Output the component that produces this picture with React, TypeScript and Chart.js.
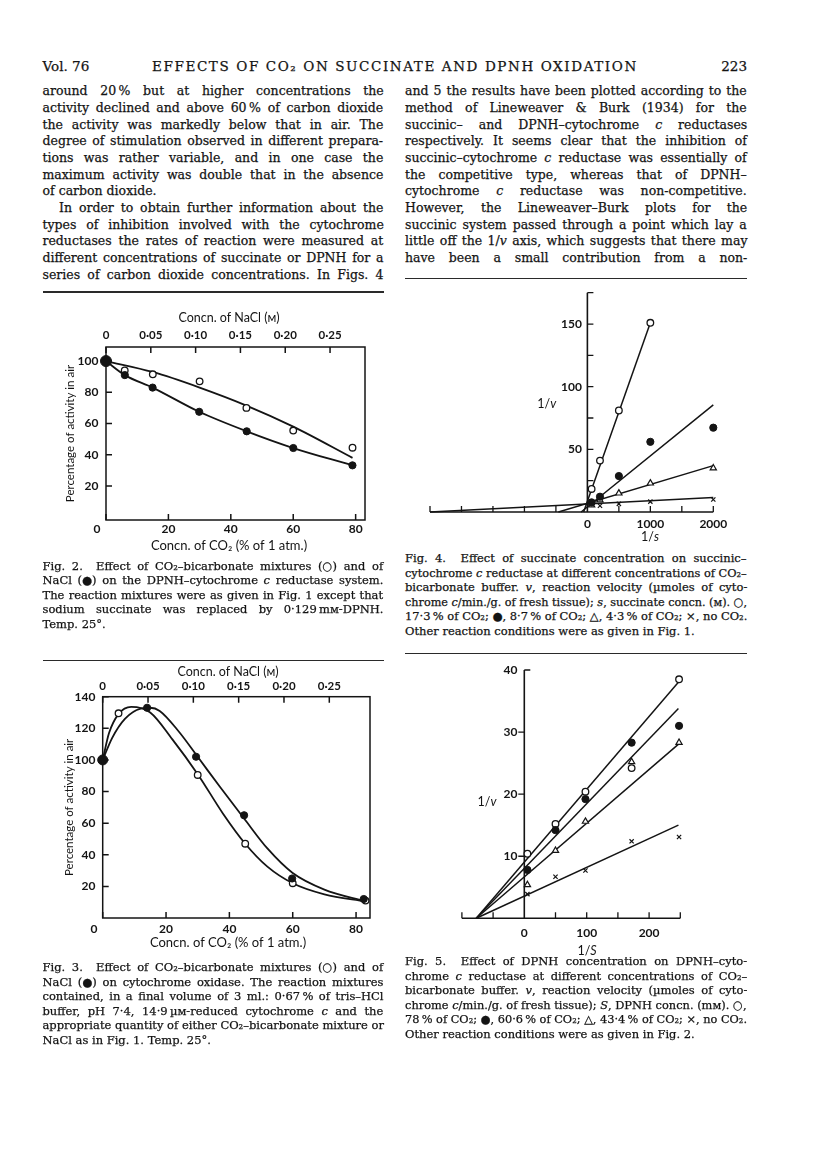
import React, { useEffect, useLayoutEffect, useRef, useState } from 'react';
import { Chart, registerables } from 'chart.js';
Chart.register(...registerables);

// ---------------- Chart data ----------------
// Fig. 2 — CO2 (open) plotted on bottom axis, NaCl (filled) on top axis
const fig2Co2X = [0, 6, 15, 30, 45, 60, 79];
const fig2OpenY = [100, 94, 91.5, 87, 70, 55.5, 44.5];
const fig2NaclX = [0, 0.021, 0.052, 0.104, 0.157, 0.209, 0.275];
const fig2FilledY = [100, 91, 83, 67.5, 55, 44.3, 33.2];
const fig2OpenCurveX = [0, 15, 30, 45, 60, 79];
const fig2OpenCurveY = [100, 93, 83, 71.5, 58, 38];
const fig2FilledCurveX = [0, 0.021, 0.052, 0.104, 0.157, 0.209, 0.275];
const fig2FilledCurveY = [100, 91, 83, 67.5, 55, 44.3, 33.2];
const fig2XTicks = [0, 20, 40, 60, 80];
const fig2XTickLabels = ['0', '20', '40', '60', '80'];
const fig2YTicks = [20, 40, 60, 80, 100];
const fig2YTickLabels = ['20', '40', '60', '80', '100'];
const fig2TopTicks = [0, 0.05, 0.1, 0.15, 0.2, 0.25];
const fig2TopTickLabels = ['0', '0·05', '0·10', '0·15', '0·20', '0·25'];

// Fig. 3
const fig3Co2X = [0, 5, 30, 45, 60, 83];
const fig3OpenY = [100, 129.5, 90.5, 47, 22, 11];
const fig3NaclX = [0, 0.049, 0.103, 0.156, 0.209, 0.288];
const fig3FilledY = [100, 133, 102, 65, 25, 12];
const fig3OpenCurveX = [0, 2, 5, 9, 15, 22, 30, 38, 45, 52, 60, 70, 83];
const fig3OpenCurveY = [100, 117, 129, 133.5, 130, 113, 91, 66, 47, 32.5, 22, 15, 10.5];
const fig3FilledCurveX = [0, 0.0105, 0.0245, 0.042, 0.0524, 0.0629, 0.0839, 0.1048, 0.1293, 0.1572, 0.1817, 0.2096, 0.2446, 0.29];
const fig3FilledCurveY = [100, 114, 126, 132.5, 133, 131, 118, 102, 83, 62, 44, 28.5, 18, 10.5];
const fig3XTicks = [0, 20, 40, 60, 80];
const fig3XTickLabels = ['0', '20', '40', '60', '80'];
const fig3YTicks = [20, 40, 60, 80, 100, 120, 140];
const fig3YTickLabels = ['20', '40', '60', '80', '100', '120', '140'];
const fig3TopTicks = [0, 0.05, 0.1, 0.15, 0.2, 0.25];
const fig3TopTickLabels = ['0', '0·05', '0·10', '0·15', '0·20', '0·25'];

// Fig. 4 — Lineweaver–Burk, succinate
const fig4OpenX = [67, 200, 500, 1000];
const fig4OpenY = [18.4, 41, 81, 151];
const fig4FilledX = [67, 200, 500, 1000, 2000];
const fig4FilledY = [7.7, 12.2, 28.7, 56, 67.3];
const fig4TriX = [67, 200, 500, 1000, 2000];
const fig4TriY = [5.5, 9.5, 15, 23, 35];
const fig4CrossX = [67, 200, 500, 1000, 2000];
const fig4CrossY = [6, 5, 6.5, 8.3, 10];
const fig4OpenLineX = [-60, 1000];
const fig4OpenLineY = [0, 151];
const fig4FilledLineX = [-100, 2000];
const fig4FilledLineY = [0, 85.5];
const fig4TriLineX = [-460, 2000];
const fig4TriLineY = [0, 37];
const fig4CrossLineX = [-2500, 2000];
const fig4CrossLineY = [0, 11.5];
const fig4XTicks = [-2500, -2000, -1500, -1000, -500, 500, 1000, 1500, 2000];
const fig4XLabelVals = [0, 1000, 2000];
const fig4XTickLabels = ['0', '1000', '2000'];
const fig4YTicks = [25, 50, 75, 100, 125, 150, 175];
const fig4YLabelVals = [50, 100, 150];
const fig4YTickLabels = ['50', '100', '150'];

// Fig. 5 — Lineweaver–Burk, DPNH
const fig5X = [5, 50, 98, 172, 248];
const fig5OpenY = [10.4, 15.2, 20.4, 24.2, 38.5];
const fig5FilledY = [7.8, 14.2, 19.2, 28.3, 31];
const fig5TriY = [5.4, 10.9, 15.6, 25.2, 28.3];
const fig5CrossY = [3.9, 6.7, 7.7, 12.4, 13.1];
const fig5OpenLineX = [-77, 250];
const fig5OpenLineY = [0, 38.4];
const fig5FilledLineX = [-77, 247];
const fig5FilledLineY = [0, 33.8];
const fig5TriLineX = [-77, 250];
const fig5TriLineY = [0, 28.3];
const fig5CrossLineX = [-77, 247];
const fig5CrossLineY = [0, 15];
const fig5XTicks = [-100, -50, 50, 100, 150, 200, 250];
const fig5XLabelVals = [0, 100, 200];
const fig5XTickLabels = ['0', '100', '200'];
const fig5YTicks = [10, 20, 30, 40];
const fig5YLabelVals = [10, 20, 30, 40];
const fig5YTickLabels = ['10', '20', '30', '40'];

// ---------------- Page text ----------------
const headerLeft = 'Vol. 76';
const headerTitle = 'EFFECTS OF CO₂ ON SUCCINATE AND DPNH OXIDATION';
const headerRight = '223';

const leftColumnLines = [
  'around 20\u2009% but at higher concentrations the',
  'activity declined and above 60\u2009% of carbon dioxide',
  'the activity was markedly below that in air. The',
  'degree of stimulation observed in different prepara-',
  'tions was rather variable, and in one case the',
  'maximum activity was double that in the absence',
  'of carbon dioxide.',
  'In order to obtain further information about the',
  'types of inhibition involved with the cytochrome',
  'reductases the rates of reaction were measured at',
  'different concentrations of succinate or DPNH for a',
  'series of carbon dioxide concentrations. In Figs. 4',
];
const rightColumnLines = [
  'and 5 the results have been plotted according to the',
  'method of Lineweaver & Burk (1934) for the',
  'succinic– and DPNH–cytochrome *c* reductases',
  'respectively. It seems clear that the inhibition of',
  'succinic–cytochrome *c* reductase was essentially of',
  'the competitive type, whereas that of DPNH–',
  'cytochrome *c* reductase was non-competitive.',
  'However, the Lineweaver–Burk plots for the',
  'succinic system passed through a point which lay a',
  'little off the 1/*v* axis, which suggests that there may',
  'have been a small contribution from a non-',
];
const fig2Caption = [
  'Fig. 2.  Effect of CO₂–bicarbonate mixtures (○) and of',
  'NaCl (●) on the DPNH–cytochrome *c* reductase system.',
  'The reaction mixtures were as given in Fig. 1 except that',
  'sodium succinate was replaced by 0·129\u2009mᴍ-DPNH.',
  'Temp. 25°.',
];
const fig3Caption = [
  'Fig. 3.  Effect of CO₂–bicarbonate mixtures (○) and of',
  'NaCl (●) on cytochrome oxidase. The reaction mixtures',
  'contained, in a final volume of 3 ml.: 0·67\u2009% of tris–HCl',
  'buffer, pH 7·4, 14·9\u2009µᴍ-reduced cytochrome *c* and the',
  'appropriate quantity of either CO₂–bicarbonate mixture or',
  'NaCl as in Fig. 1. Temp. 25°.',
];
const fig4Caption = [
  'Fig. 4.  Effect of succinate concentration on succinic–',
  'cytochrome *c* reductase at different concentrations of CO₂–',
  'bicarbonate buffer. *v*, reaction velocity (µmoles of cyto-',
  'chrome *c*/min./g. of fresh tissue); *s*, succinate concn. (ᴍ). ○,',
  '17·3\u2009% of CO₂; ●, 8·7\u2009% of CO₂; △, 4·3\u2009% of CO₂; ×, no CO₂.',
  'Other reaction conditions were as given in Fig. 1.',
];
const fig5Caption = [
  'Fig. 5.  Effect of DPNH concentration on DPNH–cyto-',
  'chrome *c* reductase at different concentrations of CO₂–',
  'bicarbonate buffer. *v*, reaction velocity (µmoles of cyto-',
  'chrome *c*/min./g. of fresh tissue); *S*, DPNH concn. (mᴍ). ○,',
  '78\u2009% of CO₂; ●, 60·6\u2009% of CO₂; △, 43·4\u2009% of CO₂; ×, no CO₂.',
  'Other reaction conditions were as given in Fig. 2.',
];

// ---------------- Styling ----------------
const INK = '#141414';
const SERIF = "'DejaVu Serif', serif";
const SANS = "Lato, 'DejaVu Sans', sans-serif";
const TICK_FONT = `bold 12px ${SANS}`;
const TOP_TICK_FONT = `bold 11.5px ${SANS}`;
const TITLE_FONT = `12.5px ${SANS}`;
const XTITLE_FONT = `13px ${SANS}`;
const YTITLE_FONT = `11.5px ${SANS}`;

const pts = (xs: number[], ys: number[]) => xs.map((x, i) => ({ x, y: ys[i] }));

const openDs = (data: any[], axis = 'x', r = 3.3) => ({
  data, xAxisID: axis, showLine: false, pointStyle: 'circle', pointRadius: r,
  pointBackgroundColor: '#fff', pointBorderColor: INK, pointBorderWidth: 1.3, order: 0, clip: false,
});
const filledDs = (data: any[], axis = 'x', r: any = 3.6) => ({
  data, xAxisID: axis, showLine: false, pointStyle: 'circle', pointRadius: r,
  pointBackgroundColor: INK, pointBorderColor: INK, pointBorderWidth: 1, order: 0, clip: false,
});
const triDs = (data: any[]) => ({
  data, showLine: false, pointStyle: 'triangle', pointRadius: 3.6,
  pointBackgroundColor: '#fff', pointBorderColor: INK, pointBorderWidth: 1.2, order: 0, clip: false,
});
const crossDs = (data: any[]) => ({
  data, showLine: false, pointStyle: 'crossRot', pointRadius: 3,
  pointBackgroundColor: INK, pointBorderColor: INK, pointBorderWidth: 1.2, order: 0, clip: false,
});
const curveDs = (data: any[], axis = 'x', w = 1.8, smooth = true) => ({
  data, xAxisID: axis, showLine: true, pointRadius: 0, borderColor: INK, borderWidth: w,
  cubicInterpolationMode: smooth ? 'monotone' : 'default', tension: 0, order: 1, clip: false,
});

function drawMixed(ctx: CanvasRenderingContext2D, parts: [string, boolean][], cx: number, cy: number, size: number) {
  const fonts = parts.map(([, it]) => `${it ? 'italic ' : ''}${size}px ${SANS}`);
  let total = 0;
  const widths = parts.map(([t], i) => { ctx.font = fonts[i]; const w = ctx.measureText(t).width; total += w; return w; });
  let x = cx - total / 2;
  ctx.textAlign = 'left';
  parts.forEach(([t], i) => { ctx.font = fonts[i]; ctx.fillText(t, x, cy); x += widths[i]; });
}

type BoxCfg = {
  ox: number; oy: number;
  xTicks: number[]; xTickLabels: string[];
  yTicks: number[]; yTickLabels: string[];
  topTicks: number[]; topTickLabels: string[];
  xTitle: string; yTitle: string; topTitle: string;
  xLabelY: number; topLabelY: number; yLabelRight: number; zeroLabelX: number;
  xTitleY: number; topTitleY: number; yTitleX: number; titleX: number;
};

function boxAxes(c: BoxCfg) {
  return {
    id: 'boxAxes',
    beforeDatasetsDraw(chart: any) {
      const { ctx, chartArea: a, scales } = chart;
      const sx = scales.x, sy = scales.y, s2 = scales.x2;
      ctx.save();
      ctx.strokeStyle = INK; ctx.lineWidth = 1.5;
      ctx.strokeRect(a.left, a.top, a.right - a.left, a.bottom - a.top);
      ctx.beginPath();
      c.xTicks.forEach(v => { const p = sx.getPixelForValue(v); ctx.moveTo(p, a.bottom); ctx.lineTo(p, a.bottom - 6); });
      c.topTicks.forEach(v => { const p = s2.getPixelForValue(v); ctx.moveTo(p, a.top); ctx.lineTo(p, a.top + 6); });
      c.yTicks.forEach(v => { const p = sy.getPixelForValue(v); ctx.moveTo(a.left, p); ctx.lineTo(a.left + 6, p); });
      ctx.stroke();
      ctx.fillStyle = INK; ctx.textBaseline = 'middle';
      ctx.font = TICK_FONT; ctx.textAlign = 'center';
      c.xTicks.forEach((v, i) => {
        const p = v === 0 ? c.zeroLabelX - c.ox : sx.getPixelForValue(v);
        ctx.fillText(c.xTickLabels[i], p, c.xLabelY - c.oy);
      });
      ctx.font = TOP_TICK_FONT;
      c.topTicks.forEach((v, i) => ctx.fillText(c.topTickLabels[i], s2.getPixelForValue(v), c.topLabelY - c.oy));
      ctx.font = TICK_FONT; ctx.textAlign = 'right';
      c.yTicks.forEach((v, i) => ctx.fillText(c.yTickLabels[i], c.yLabelRight - c.ox, sy.getPixelForValue(v)));
      ctx.textAlign = 'center';
      ctx.font = TITLE_FONT;
      ctx.fillText(c.topTitle, c.titleX - c.ox, c.topTitleY - c.oy);
      ctx.font = XTITLE_FONT;
      ctx.fillText(c.xTitle, c.titleX - c.ox, c.xTitleY - c.oy);
      ctx.save();
      ctx.translate(c.yTitleX - c.ox, (a.top + a.bottom) / 2);
      ctx.rotate(-Math.PI / 2);
      ctx.font = YTITLE_FONT;
      ctx.fillText(c.yTitle, 0, 0);
      ctx.restore();
      ctx.restore();
    },
  };
}

type CrossCfg = {
  ox: number; oy: number;
  xTicks: number[]; xLabelVals: number[]; xTickLabels: string[];
  yTicks: number[]; yTickDir: number[]; yLabelVals: number[]; yTickLabels: string[];
  xLabelY: number; yLabelRight: number;
  vLabel: { x: number; y: number; parts: [string, boolean][] };
  sLabel: { x: number; y: number; parts: [string, boolean][] };
};

function crossAxes(c: CrossCfg) {
  return {
    id: 'crossAxes',
    beforeDatasetsDraw(chart: any) {
      const { ctx, chartArea: a, scales } = chart;
      const sx = scales.x, sy = scales.y;
      const zx = sx.getPixelForValue(0), zy = sy.getPixelForValue(0);
      ctx.save();
      ctx.strokeStyle = INK; ctx.lineWidth = 1.6;
      ctx.beginPath();
      ctx.moveTo(a.left, zy); ctx.lineTo(a.right, zy);
      ctx.moveTo(zx, zy); ctx.lineTo(zx, a.top);
      ctx.stroke();
      ctx.lineWidth = 1.3;
      ctx.beginPath();
      c.xTicks.forEach(v => { const p = sx.getPixelForValue(v); ctx.moveTo(p, zy); ctx.lineTo(p, zy - 6); });
      c.yTicks.forEach((v, i) => { const p = sy.getPixelForValue(v); ctx.moveTo(zx, p); ctx.lineTo(zx + 6 * c.yTickDir[i], p); });
      ctx.stroke();
      ctx.fillStyle = INK; ctx.textBaseline = 'middle';
      ctx.font = TICK_FONT; ctx.textAlign = 'center';
      c.xLabelVals.forEach((v, i) => ctx.fillText(c.xTickLabels[i], sx.getPixelForValue(v), c.xLabelY - c.oy));
      ctx.textAlign = 'right';
      c.yLabelVals.forEach((v, i) => ctx.fillText(c.yTickLabels[i], c.yLabelRight - c.ox, sy.getPixelForValue(v)));
      drawMixed(ctx, c.vLabel.parts, c.vLabel.x - c.ox, c.vLabel.y - c.oy, 12.5);
      drawMixed(ctx, c.sLabel.parts, c.sLabel.x - c.ox, c.sLabel.y - c.oy, 12.5);
      ctx.restore();
    },
  };
}

function baseOptions(pad: { left: number; right: number; top: number; bottom: number }, scales: any) {
  return {
    responsive: false, animation: false, devicePixelRatio: 1, events: [],
    layout: { padding: pad },
    plugins: { legend: { display: false }, tooltip: { enabled: false } },
    scales,
  };
}

// Fig. 2 : canvas at page (30,300), 370x260; plot box 106..365 x 347..520
function fig2Config() {
  return {
    type: 'scatter',
    data: {
      datasets: [
        filledDs(pts(fig2NaclX, fig2FilledY), 'x2', (c: any) => (c.dataIndex === 0 ? 5.5 : 3.6)),
        openDs(pts(fig2Co2X, fig2OpenY), 'x'),
        curveDs(pts(fig2OpenCurveX, fig2OpenCurveY), 'x'),
        curveDs(pts(fig2FilledCurveX, fig2FilledCurveY), 'x2'),
      ],
    },
    options: baseOptions({ left: 76, right: 35, top: 47, bottom: 40 }, {
      x: { type: 'linear', display: false, min: 0, max: 83 },
      x2: { type: 'linear', axis: 'x', display: false, min: 0, max: 0.289 },
      y: { type: 'linear', display: false, min: -1.8, max: 109 },
    }),
    plugins: [boxAxes({
      ox: 30, oy: 300,
      xTicks: fig2XTicks, xTickLabels: fig2XTickLabels,
      yTicks: fig2YTicks, yTickLabels: fig2YTickLabels,
      topTicks: fig2TopTicks, topTickLabels: fig2TopTickLabels,
      xTitle: 'Concn. of CO₂ (% of 1 atm.)', yTitle: 'Percentage of activity in air', topTitle: 'Concn. of NaCl (ᴍ)',
      xLabelY: 529, topLabelY: 335, yLabelRight: 98.5, zeroLabelX: 97,
      xTitleY: 546, topTitleY: 318, yTitleX: 70, titleX: 229,
    })],
  };
}

// Fig. 3 : canvas at page (30,662), 370x288; plot box 102.7..370 x 696.7..918
function fig3Config() {
  return {
    type: 'scatter',
    data: {
      datasets: [
        filledDs(pts(fig3NaclX, fig3FilledY), 'x2', (c: any) => (c.dataIndex === 0 ? 5 : 3.6)),
        openDs(pts(fig3Co2X, fig3OpenY), 'x'),
        curveDs(pts(fig3OpenCurveX, fig3OpenCurveY), 'x'),
        curveDs(pts(fig3FilledCurveX, fig3FilledCurveY), 'x2'),
      ],
    },
    options: baseOptions({ left: 72.7, right: 30, top: 34.7, bottom: 32 }, {
      x: { type: 'linear', display: false, min: 0, max: 84.4 },
      x2: { type: 'linear', axis: 'x', display: false, min: 0, max: 0.2949 },
      y: { type: 'linear', display: false, min: 0, max: 140 },
    }),
    plugins: [boxAxes({
      ox: 30, oy: 662,
      xTicks: fig3XTicks, xTickLabels: fig3XTickLabels,
      yTicks: fig3YTicks, yTickLabels: fig3YTickLabels,
      topTicks: fig3TopTicks, topTickLabels: fig3TopTickLabels,
      xTitle: 'Concn. of CO₂ (% of 1 atm.)', yTitle: 'Percentage of activity in air', topTitle: 'Concn. of NaCl (ᴍ)',
      xLabelY: 929, topLabelY: 686, yLabelRight: 95.5, zeroLabelX: 94,
      xTitleY: 943, topTitleY: 672, yTitleX: 69, titleX: 228,
    })],
  };
}

// Fig. 4 : canvas at page (420,280), 320x265; plot 430..713.3 x 292.7..512
function fig4Config() {
  return {
    type: 'scatter',
    data: {
      datasets: [
        filledDs(pts(fig4FilledX, fig4FilledY)),
        openDs(pts(fig4OpenX, fig4OpenY)),
        triDs(pts(fig4TriX, fig4TriY)),
        crossDs(pts(fig4CrossX, fig4CrossY)),
        curveDs(pts(fig4OpenLineX, fig4OpenLineY), 'x', 1.5, false),
        curveDs(pts(fig4FilledLineX, fig4FilledLineY), 'x', 1.5, false),
        curveDs(pts(fig4TriLineX, fig4TriLineY), 'x', 1.5, false),
        curveDs(pts(fig4CrossLineX, fig4CrossLineY), 'x', 1.5, false),
      ],
    },
    options: baseOptions({ left: 10, right: 26.7, top: 12.7, bottom: 33 }, {
      x: { type: 'linear', display: false, min: -2500, max: 2000 },
      y: { type: 'linear', display: false, min: 0, max: 175 },
    }),
    plugins: [crossAxes({
      ox: 420, oy: 280,
      xTicks: fig4XTicks, xLabelVals: fig4XLabelVals, xTickLabels: fig4XTickLabels,
      yTicks: fig4YTicks, yTickDir: [1, 1, 1, 1, 1, 1, 1], yLabelVals: fig4YLabelVals, yTickLabels: fig4YTickLabels,
      xLabelY: 524, yLabelRight: 582,
      vLabel: { x: 546.7, y: 404, parts: [['1/', false], ['v', true]] },
      sLabel: { x: 650, y: 537, parts: [['1/', false], ['s', true]] },
    })],
  };
}

// Fig. 5 : canvas at page (450,660), 260x300; plot 461.9..680.3 x 670..918.3
function fig5Config() {
  return {
    type: 'scatter',
    data: {
      datasets: [
        filledDs(pts(fig5X, fig5FilledY)),
        openDs(pts(fig5X, fig5OpenY)),
        triDs(pts(fig5X, fig5TriY)),
        crossDs(pts(fig5X, fig5CrossY)),
        curveDs(pts(fig5OpenLineX, fig5OpenLineY), 'x', 1.5, false),
        curveDs(pts(fig5FilledLineX, fig5FilledLineY), 'x', 1.5, false),
        curveDs(pts(fig5TriLineX, fig5TriLineY), 'x', 1.5, false),
        curveDs(pts(fig5CrossLineX, fig5CrossLineY), 'x', 1.5, false),
      ],
    },
    options: baseOptions({ left: 11.9, right: 29.7, top: 10, bottom: 41.7 }, {
      x: { type: 'linear', display: false, min: -100, max: 250 },
      y: { type: 'linear', display: false, min: 0, max: 40 },
    }),
    plugins: [crossAxes({
      ox: 450, oy: 660,
      xTicks: fig5XTicks, xLabelVals: fig5XLabelVals, xTickLabels: fig5XTickLabels,
      yTicks: fig5YTicks, yTickDir: [-1, -1, -1, 1], yLabelVals: fig5YLabelVals, yTickLabels: fig5YTickLabels,
      xLabelY: 933, yLabelRight: 517.5,
      vLabel: { x: 487, y: 801.7, parts: [['1/', false], ['v', true]] },
      sLabel: { x: 587, y: 951, parts: [['1/', false], ['S', true]] },
    })],
  };
}

function Plot({ left, top, width, height, build }: { left: number; top: number; width: number; height: number; build: () => any }) {
  const ref = useRef<HTMLCanvasElement>(null);
  useEffect(() => {
    const chart = new Chart(ref.current as HTMLCanvasElement, build());
    return () => chart.destroy();
  }, []);
  return <canvas ref={ref} width={width} height={height} style={{ position: 'absolute', left, top, width, height }} />;
}

// ---------------- Text helpers ----------------
function Rich({ text }: { text: string }) {
  const parts = text.split('*');
  return <>{parts.map((p, i) => (i % 2 ? <i key={i}>{p}</i> : <React.Fragment key={i}>{p}</React.Fragment>))}</>;
}

function JLine({ text, x, cy, w, size, lh, last, indent = 0, ver }: {
  text: string; x: number; cy: number; w: number; size: number; lh: number; last?: boolean; indent?: number; ver: number;
}) {
  const ref = useRef<HTMLSpanElement>(null);
  useLayoutEffect(() => {
    const el = ref.current; if (!el) return;
    el.style.wordSpacing = '0px'; el.style.transform = 'none';
    const nat = el.offsetWidth; const target = w - indent;
    if (nat > target) el.style.transform = `scaleX(${target / nat})`;
    else if (!last) {
      const n = (text.match(/ /g) || []).length;
      if (n) el.style.wordSpacing = `${(target - nat) / n}px`;
    }
  }, [text, w, ver]);
  return (
    <div style={{ position: 'absolute', left: x + indent, top: cy - lh / 2, height: lh, lineHeight: `${lh}px`, fontSize: size, fontFamily: SERIF, whiteSpace: 'pre', color: INK, WebkitTextStroke: '0.25px #141414' }}>
      <span ref={ref} style={{ display: 'inline-block', transformOrigin: '0 50%' }}><Rich text={text} /></span>
    </div>
  );
}

function Block({ lines, x, y0, dy, w, size, lastIdx = [], indentIdx = [], ver }: {
  lines: string[]; x: number; y0: number; dy: number; w: number; size: number; lastIdx?: number[]; indentIdx?: number[]; ver: number;
}) {
  return (
    <>
      {lines.map((t, i) => (
        <JLine key={i} text={t} x={x} cy={y0 + i * dy} w={w} size={size} lh={dy}
          last={lastIdx.includes(i)}
          indent={indentIdx.includes(i) ? 16.5 : 0} ver={ver} />
      ))}
    </>
  );
}

const Rule = ({ x, y, w }: { x: number; y: number; w: number }) => (
  <div style={{ position: 'absolute', left: x, top: y, width: w, height: 1.5, background: '#2a2a2a' }} />
);

export default function App() {
  const [ver, setVer] = useState(0);
  useEffect(() => {
    const f: any = (document as any).fonts;
    if (f && f.ready) f.ready.then(() => setVer(v => v + 1));
  }, []);
  const L = 42.5, R = 405, W = 341;
  const headStyle: React.CSSProperties = { position: 'absolute', top: 58, fontSize: 13.5, fontFamily: SERIF, lineHeight: '16px', whiteSpace: 'pre', WebkitTextStroke: '0.25px #141414' };
  return (
    <div style={{ position: 'absolute', left: 0, top: 0, width: 816, height: 1155, background: '#fff', overflow: 'hidden', color: INK }}>
      {/* header */}
      <div style={{ ...headStyle, left: L }}>{headerLeft}</div>
      <div style={{ ...headStyle, left: L, width: 705, textAlign: 'center', letterSpacing: '1.6px' }}>{headerTitle}</div>
      <div style={{ ...headStyle, left: 0, width: 747, textAlign: 'right' }}>{headerRight}</div>

      {/* body text */}
      <Block lines={leftColumnLines} x={L} y0={91.7} dy={16.67} w={W} size={12.5} lastIdx={[6]} indentIdx={[7]} ver={ver} />
      <Block lines={rightColumnLines} x={R} y0={91.7} dy={16.67} w={342} size={12.5} ver={ver} />
      <Rule x={L} y={291} w={W} />
      <Rule x={R} y={277.5} w={342} />

      {/* figures */}
      <Plot left={30} top={300} width={370} height={260} build={fig2Config} />
      <Block lines={fig2Caption} x={L} y0={566} dy={14.5} w={W} size={11.5} lastIdx={[4]} ver={ver} />
      <Rule x={L} y={659.5} w={W} />

      <Plot left={420} top={280} width={320} height={265} build={fig4Config} />
      <Block lines={fig4Caption} x={R} y0={558.3} dy={14.5} w={342} size={11.5} lastIdx={[5]} ver={ver} />
      <Rule x={R} y={652.5} w={342} />

      <Plot left={30} top={662} width={370} height={288} build={fig3Config} />
      <Block lines={fig3Caption} x={L} y0={967.5} dy={14.5} w={W} size={11.5} lastIdx={[5]} ver={ver} />

      <Plot left={450} top={660} width={260} height={300} build={fig5Config} />
      <Block lines={fig5Caption} x={R} y0={961.7} dy={14.5} w={342} size={11.5} lastIdx={[5]} ver={ver} />
    </div>
  );
}
